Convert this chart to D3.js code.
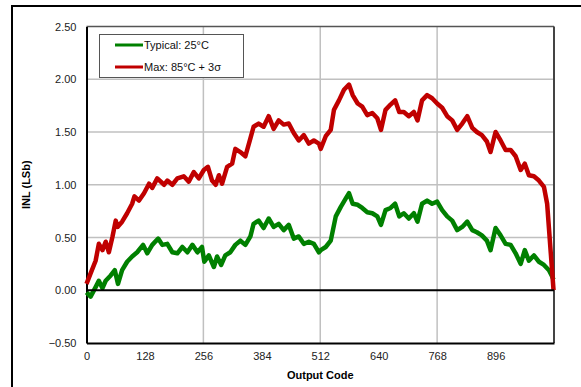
<!DOCTYPE html>
<html>
<head>
<meta charset="utf-8">
<script src="https://cdnjs.cloudflare.com/ajax/libs/d3/7.8.5/d3.min.js"></script>
<style>
  body { margin: 0; background: #fff; }
  svg text { font-family: Arial, "Liberation Sans", sans-serif; }
</style>
</head>
<body>
<div id="vis"></div>
<script>
// values
var typCodes = [0, 9, 20, 27, 35, 42, 53, 62, 69, 78, 89, 100, 111, 124, 133, 144, 157, 166, 177, 188,
    199, 210, 221, 232, 243, 253, 258, 268, 279, 286, 295, 304, 315, 326, 337, 348, 359, 366, 377, 388,
    399, 410, 421, 432, 443, 454, 465, 476, 487, 498, 509, 513, 524, 535, 546, 557, 568, 575, 583, 594,
    604, 615, 626, 637, 645, 655, 666, 676, 685, 695, 706, 717, 725, 735, 746, 757, 768, 779, 790, 801,
    812, 823, 834, 845, 855, 866, 877, 885, 896, 907, 918, 929, 940, 951, 960, 969, 980, 991, 1002, 1013, 1020, 1023];
var typInl = [-0.02, -0.06, 0.03, 0.09, 0.02, 0.09, 0.14, 0.19, 0.06, 0.19, 0.27, 0.32, 0.36, 0.43, 0.35, 0.43, 0.49, 0.43, 0.44, 0.36,
    0.35, 0.41, 0.36, 0.43, 0.36, 0.41, 0.27, 0.33, 0.22, 0.32, 0.24, 0.33, 0.36, 0.43, 0.47, 0.43, 0.51, 0.63, 0.66, 0.59,
    0.68, 0.60, 0.63, 0.57, 0.62, 0.49, 0.51, 0.44, 0.46, 0.44, 0.36, 0.38, 0.41, 0.47, 0.70, 0.79, 0.87, 0.92, 0.82, 0.81,
    0.78, 0.74, 0.73, 0.70, 0.62, 0.76, 0.78, 0.82, 0.70, 0.73, 0.68, 0.73, 0.65, 0.82, 0.85, 0.82, 0.84, 0.76, 0.70, 0.66,
    0.57, 0.60, 0.65, 0.57, 0.55, 0.52, 0.47, 0.38, 0.59, 0.52, 0.44, 0.43, 0.35, 0.25, 0.38, 0.28, 0.33, 0.27, 0.24, 0.19, 0.13, 0.10];

var maxCodes = [0, 9, 20, 27, 35, 42, 49, 57, 64, 68, 78, 89, 100, 105, 115, 126, 137, 144, 155, 170,
    177, 188, 199, 213, 224, 235, 246, 257, 266, 275, 283, 290, 297, 308, 319, 326, 337, 348, 359, 366,
    377, 388, 399, 410, 421, 432, 443, 454, 465, 476, 487, 498, 509, 513, 524, 535, 542, 553, 564, 575,
    583, 594, 604, 615, 626, 637, 645, 655, 666, 676, 685, 695, 706, 717, 725, 735, 746, 757, 768, 779,
    790, 801, 812, 823, 834, 845, 855, 866, 877, 885, 896, 907, 918, 929, 940, 951, 960, 969, 980, 991,
    1002, 1009, 1017, 1023];
var maxInl = [0.06, 0.16, 0.28, 0.44, 0.38, 0.46, 0.36, 0.51, 0.66, 0.60, 0.65, 0.73, 0.82, 0.89, 0.85, 0.92, 1.01, 0.97, 1.06, 1.00,
    1.04, 1.00, 1.06, 1.08, 1.03, 1.12, 1.06, 1.14, 1.17, 1.04, 1.00, 1.09, 1.01, 1.17, 1.20, 1.34, 1.31, 1.27, 1.44, 1.55,
    1.58, 1.55, 1.65, 1.53, 1.61, 1.57, 1.58, 1.49, 1.42, 1.47, 1.39, 1.42, 1.39, 1.34, 1.46, 1.52, 1.71, 1.80, 1.90, 1.95,
    1.85, 1.77, 1.74, 1.66, 1.68, 1.63, 1.52, 1.71, 1.76, 1.80, 1.69, 1.69, 1.65, 1.69, 1.61, 1.80, 1.85, 1.82, 1.77, 1.73,
    1.65, 1.61, 1.52, 1.58, 1.65, 1.54, 1.50, 1.47, 1.41, 1.31, 1.50, 1.42, 1.33, 1.33, 1.27, 1.14, 1.20, 1.09, 1.08, 1.04,
    0.98, 0.82, 0.35, 0.00];

var xTicks = [0, 128, 256, 384, 512, 640, 768, 896];
var xGrid = [256, 512, 768];
var yTicks = [-0.5, 0, 0.5, 1.0, 1.5, 2.0, 2.5];

var seriesNames = ["Typical: 25°C", "Max: 85°C + 3σ"];
var seriesColors = ["#008000", "#c00000"];

var width = 581, height = 387;
var plotL = 86.5, plotR = 554, plotT = 26.5, plotB = 343;

var svg = d3.select("#vis").append("svg")
    .attr("width", width)
    .attr("height", height);

// outer frame (runs off the right and bottom edge)
svg.append("rect")
    .attr("x", 12).attr("y", 6)
    .attr("width", 620).attr("height", 420)
    .attr("fill", "none")
    .attr("stroke", "#000")
    .attr("stroke-width", 2);

var x = d3.scaleLinear().domain([0, 1024]).range([plotL, plotR]);
var y = d3.scaleLinear().domain([-0.5, 2.5]).range([plotB, plotT]);

// grid
svg.selectAll(".hgrid")
    .data(yTicks.filter(function (d) { return d > -0.5 && d !== 0 && d < 2.5; }))
    .enter().append("line")
    .attr("x1", plotL).attr("x2", plotR)
    .attr("y1", function (d) { return y(d); })
    .attr("y2", function (d) { return y(d); })
    .attr("stroke", "#c0c0c0")
    .attr("stroke-width", 1.5);

svg.selectAll(".vgrid")
    .data(xGrid)
    .enter().append("line")
    .attr("x1", function (d) { return x(d); })
    .attr("x2", function (d) { return x(d); })
    .attr("y1", plotT).attr("y2", plotB)
    .attr("stroke", "#c0c0c0")
    .attr("stroke-width", 1.5);

// top and right border of plot
svg.append("line").attr("x1", plotL).attr("x2", plotR).attr("y1", plotT).attr("y2", plotT)
    .attr("stroke", "#555").attr("stroke-width", 1.5);
svg.append("line").attr("x1", plotR).attr("x2", plotR).attr("y1", plotT).attr("y2", plotB)
    .attr("stroke", "#444").attr("stroke-width", 2);

// axes
var yAxis = d3.axisLeft(y).tickValues(yTicks).tickSize(0).tickPadding(10)
    .tickFormat(d3.format(".2f"));
var gy = svg.append("g").attr("transform", "translate(" + plotL + ",0)").call(yAxis);
var xAxis = d3.axisBottom(x).tickValues(xTicks).tickSize(0).tickPadding(9);
var gx = svg.append("g").attr("transform", "translate(0," + plotB + ")").call(xAxis);

[gx, gy].forEach(function (g) {
    g.select(".domain").attr("stroke", "#000").attr("stroke-width", 2);
    g.selectAll("text").attr("font-size", 11).attr("fill", "#222")
        .style("font-family", "Arial, 'Liberation Sans', sans-serif");
});

// lines
var line = d3.line()
    .x(function (d) { return x(d[0]); })
    .y(function (d) { return y(d[1]); });

var series = [d3.zip(typCodes, typInl), d3.zip(maxCodes, maxInl)];
series.forEach(function (s, i) {
    svg.append("path")
        .datum(s)
        .attr("d", line)
        .attr("fill", "none")
        .attr("stroke", seriesColors[i])
        .attr("stroke-width", 4.5)
        .attr("stroke-linejoin", "round");
});

// zero line
svg.append("line").attr("x1", plotL).attr("x2", plotR).attr("y1", y(0)).attr("y2", y(0))
    .attr("stroke", "#000").attr("stroke-width", 2);

// axis titles
svg.append("text")
    .attr("x", (plotL + plotR) / 2).attr("y", 379)
    .attr("text-anchor", "middle")
    .attr("font-size", 11).attr("font-weight", "bold")
    .text("Output Code");

svg.append("text")
    .attr("transform", "translate(30," + ((plotT + plotB) / 2) + ") rotate(-90)")
    .attr("text-anchor", "middle")
    .attr("font-size", 11).attr("font-weight", "bold")
    .text("INL (LSb)");

// legend
var lg = svg.append("g");
lg.append("rect")
    .attr("x", 99.5).attr("y", 34.5)
    .attr("width", 144).attr("height", 43)
    .attr("fill", "#fff")
    .attr("stroke", "#555")
    .attr("stroke-width", 1);

seriesNames.forEach(function (name, i) {
    var ly = 45 + i * 22;
    lg.append("line")
        .attr("x1", 115).attr("x2", 143)
        .attr("y1", ly).attr("y2", ly)
        .attr("stroke", seriesColors[i])
        .attr("stroke-width", 3);
    lg.append("text")
        .attr("x", 144).attr("y", ly + 4)
        .attr("font-size", 11)
        .attr("fill", "#111")
        .text(name);
});
</script>
</body>
</html>
